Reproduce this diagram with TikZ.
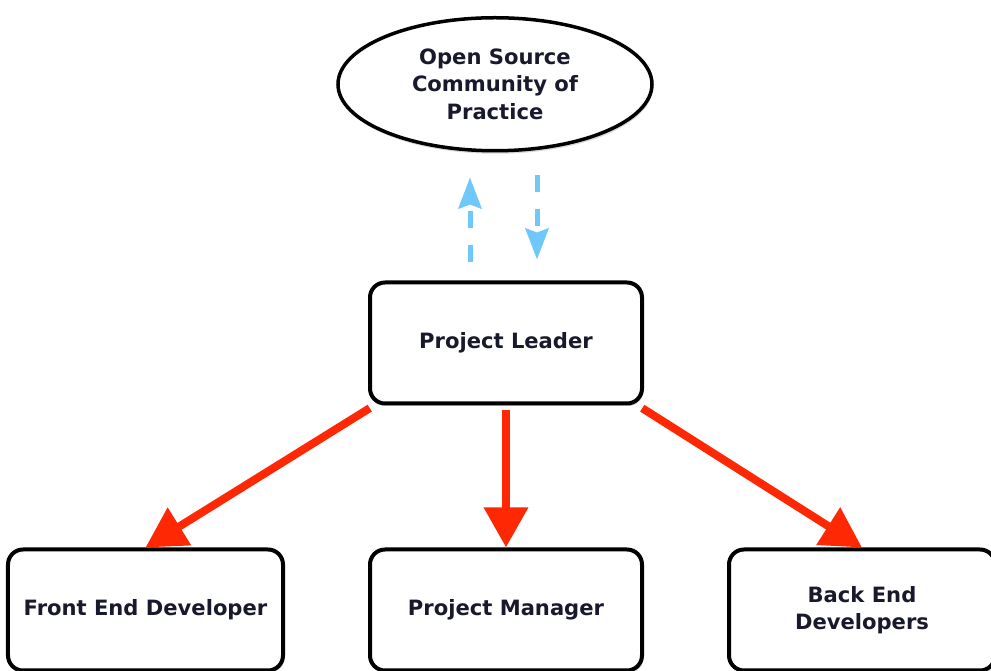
\documentclass[tikz,border=0pt]{standalone}
\usepackage{fontspec}
\setmainfont{DejaVu Sans}
\usetikzlibrary{shapes,positioning,arrows.meta,shadows}
\definecolor{linkred}{RGB}{255,40,5}
\definecolor{linkblue}{RGB}{110,200,250}
\definecolor{labelink}{RGB}{25,25,45}

\begin{document}
\begin{tikzpicture}[
    node distance=2.84cm and 1.66cm,
    font=\bfseries\fontsize{12}{15.5}\selectfont,
    rolebox/.style={
        rectangle, rounded corners=0.3cm, draw=black, line width=0.08cm,
        fill=white, text=labelink, align=center,
        minimum width=5.44cm, minimum height=2.42cm,
        drop shadow={shadow xshift=0.03cm, shadow yshift=-0.05cm, opacity=0.3}
      },
    roundnode/.style={
        ellipse, draw=black, line width=0.07cm, fill=white, text=labelink,
        align=center, inner sep=0pt, minimum width=6.28cm, minimum height=2.66cm,
        drop shadow={shadow xshift=0.02cm, shadow yshift=-0.06cm, opacity=0.3}
      },
    report/.style={
        -{Triangle[length=0.8cm, width=0.85cm]}, draw=linkred, line width=0.16cm,
        shorten <=0.1cm
      },
    exchange/.style={
        -{Stealth[length=0.62cm, width=0.46cm, inset=0.08cm]}, draw=linkblue,
        line width=0.1cm, dash pattern=on 0.34cm off 0.34cm
      },
  ]
  \useasboundingbox (0,0) rectangle (19.82,13.42);
  \node[rolebox] (leader) at (10.12,6.56) {Project Leader};
  \node[rolebox] (manager) [below=of leader] {Project Manager};
  \node[rolebox, minimum width=5.5cm] (frontend) [left=of manager] {Front End Developer};
  \node[rolebox, minimum width=5.32cm] (backend) [right=of manager] {Back End\\Developers};
  \node[roundnode, xshift=-0.22cm] (community) [above=2.56cm of leader]
    {Open Source\\Community of\\Practice};
  \draw[report] ([xshift=0.12cm]leader.south west) -- (frontend.north);
  \draw[report] (leader.south) -- (manager.north);
  \draw[report] ([xshift=-0.12cm]leader.south east) -- (backend.north);
  \draw[exchange, shorten <=0.36cm, shorten >=0.5cm]
    ([xshift=-0.72cm]leader.north) -- ([xshift=-0.72cm]leader.north |- community.south);
  \draw[exchange, shorten <=0.46cm, shorten >=0.42cm]
    ([xshift=0.62cm]leader.north |- community.south) -- ([xshift=0.62cm]leader.north);
\end{tikzpicture}
\end{document}
